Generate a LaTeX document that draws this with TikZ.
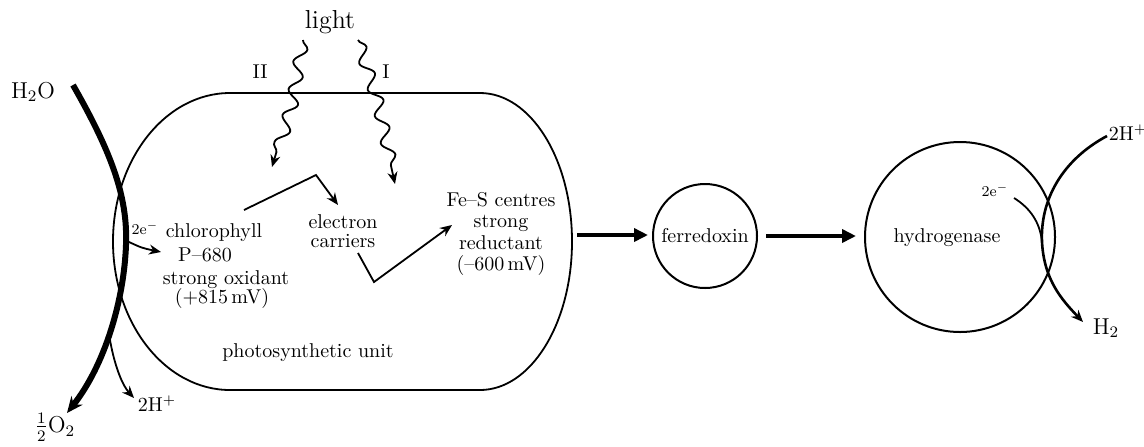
\documentclass[tikz,border=0pt]{standalone}
\usetikzlibrary{arrows.meta,decorations.pathmorphing}
\begin{document}
\begin{tikzpicture}[x=0.5pt,y=-0.5pt,
  txt/.style={font=\fontsize{10}{12}\selectfont,inner sep=0pt},
  small/.style={font=\fontsize{7.5}{9}\selectfont,inner sep=0pt},
  big/.style={font=\fontsize{11.5}{13}\selectfont,inner sep=0pt},
  thinl/.style={line width=0.9pt},
  tip/.style={-{Stealth[length=6pt,width=5pt]}},
  bigtip/.style={-{Stealth[length=8pt,width=7pt]}},
  fat/.style={line width=2.4pt,-{Triangle[length=7pt,width=6.5pt]}},
  wave/.style={thinl,decorate,decoration={snake,segment length=14pt,amplitude=3pt,post length=6pt}},
  ring/.style={circle,draw,line width=1pt,inner sep=0pt}]
\useasboundingbox (0,0) rectangle (1144,446);

% photosynthetic unit outline
\draw[thinl] (230,93) -- (480,93)
  arc[start angle=-90,end angle=90,x radius=92,y radius=148.5]
  -- (230,390)
  arc[start angle=90,end angle=270,x radius=117,y radius=148.5] -- cycle;
\coordinate (unitE) at (577,235);

% circles
\node[ring,txt,minimum size=52pt] (ferr) at (705,236) {ferredoxin};
\node[ring,minimum size=95pt] (hyd) at (960,237) {};
\node[txt] (hydlbl) at (947,238) {hydrogenase};

% main fat arrows
\draw[fat] (unitE) -- ([xshift=-2pt]unitE -| ferr.west);
\draw[fat] ([xshift=4pt]ferr.east) -- ([xshift=-4pt]ferr.east -| hyd.west);

% water side
\node[big] (h2o) at (33,92) {H$_2$O};
\node[big] (o2) at (55,427) {$\frac{1}{2}$O$_2$};
\node[txt] (hpl) at (157,404) {2H$^{+}$};
\coordinate (h2oS) at (73,85);
\coordinate (o2E) at (67,413);
\coordinate (br) at (110,340);
\coordinate (hplT) at (134,398);
\draw[line width=3pt,bigtip] (h2oS) .. controls (110,150) and (128,195) .. (126,245)
  .. controls (124,300) and (105,365) .. (o2E);
\draw[thinl,tip] (br) .. controls (115,368) and (123,386) .. (hplT);
\node[small] (e2l) at (145,228) {2e$^{-}$};
\coordinate (eS) at (129,242);
\coordinate (eT) at (161,252);
\draw[thinl,tip] (eS) .. controls (142,248) .. (eT);

% texts inside unit
\node[txt] (chl) at (214,233) {chlorophyll};
\node[txt] (p680) at (205,255) {P--680};
\node[txt] (sox) at (226,280) {strong oxidant};
\node[txt] (pot1) at (222,298) {(+815\,mV)};
\node[txt,align=center,font=\fontsize{10}{9.5}\selectfont] (ec) at (343,231) {electron\\carriers};
\node[txt,align=center,font=\fontsize{10}{10.8}\selectfont] (fes) at (501,234) {Fe--S centres\\strong\\reductant\\(--600\,mV)};
\node[txt] (psu) at (308,353) {photosynthetic unit};

% light
\node[txt,font=\fontsize{13}{15}\selectfont] (light) at (330,22) {light};
\node[txt] (II) at (260,72) {II};
\node[txt] (I) at (386,72) {I};
\coordinate (w2a) at (303,40); \coordinate (w2b) at (294,93); \coordinate (w2c) at (272,167);
\coordinate (w1a) at (358,40); \coordinate (w1b) at (375,93); \coordinate (w1c) at (395,184);
\draw[wave,tip] (w2a) -- (w2b) -- (w2c);
\draw[wave,tip] (w1a) -- (w1b) -- (w1c);

% electron transfer zigzags
\coordinate (z1a) at (244,210); \coordinate (z1b) at (316,175); \coordinate (z1c) at (338,205);
\coordinate (z2a) at (358,253); \coordinate (z2b) at (374,282); \coordinate (z2c) at (452,225);
\draw[thinl,tip] (z1a) -- (z1b) -- (z1c);
\draw[thinl,tip] (z2a) -- (z2b) -- (z2c);

% hydrogen side
\node[txt] (hpr) at (1128,133) {2H$^{+}$};
\node[big] (h2) at (1106,328) {H$_2$};
\node[small] (e2r) at (995,190) {2e$^{-}$};
\coordinate (hpS) at (1107,136);
\coordinate (h2T) at (1083,322);
\coordinate (erS) at (1014,198);
\coordinate (join) at (1042,242);
\draw[line width=1.3pt,tip] (hpS) .. controls (1062,160) and (1040,200) .. (join)
  .. controls (1044,280) and (1062,300) .. (h2T);
\draw[thinl] (erS) .. controls (1030,208) and (1040,222) .. (join);
\end{tikzpicture}
\end{document}
